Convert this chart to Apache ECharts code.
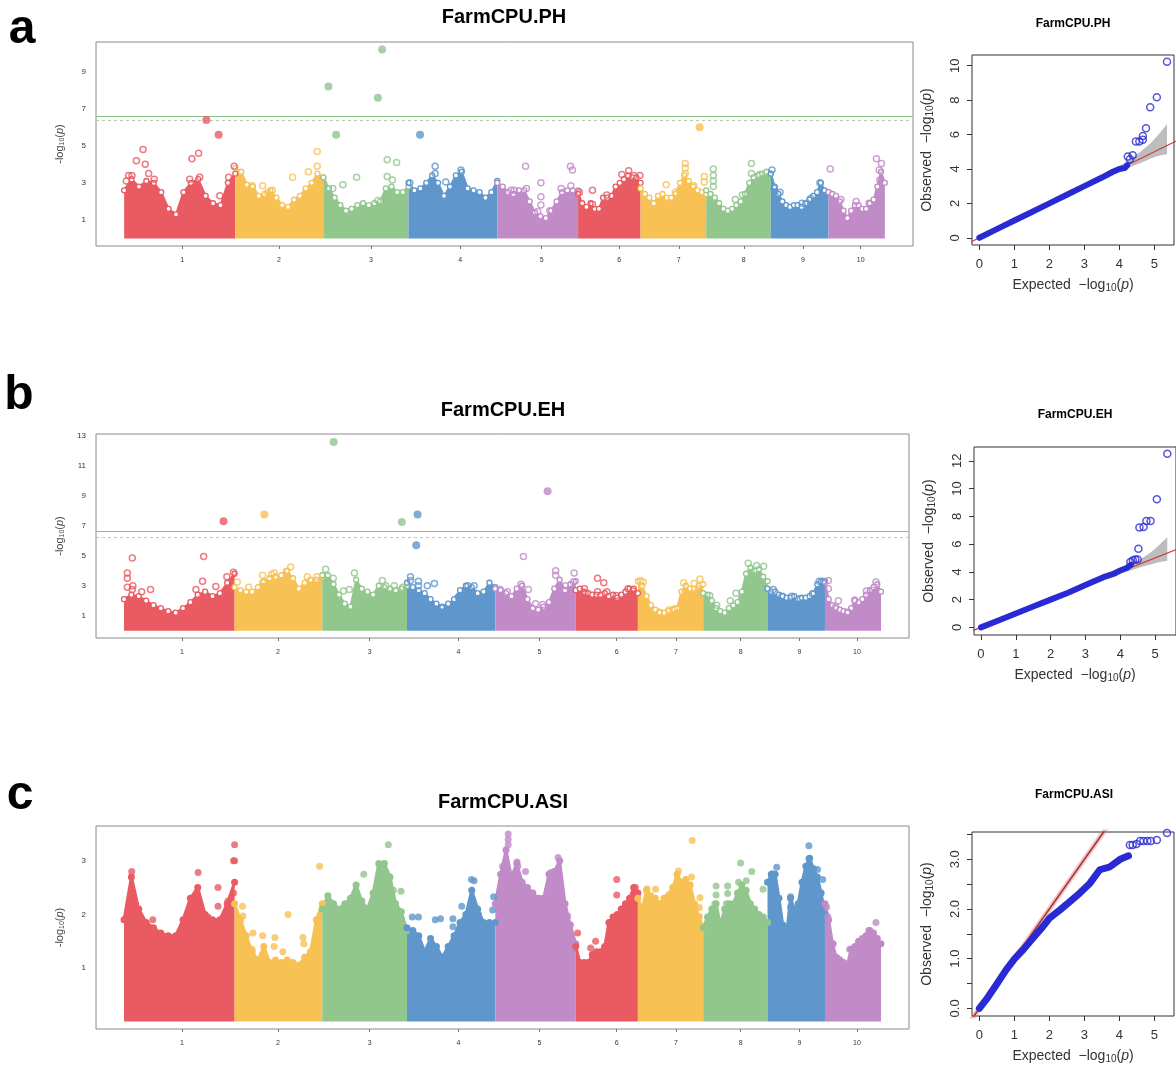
<!DOCTYPE html>
<html><head><meta charset="utf-8">
<script src="https://cdn.jsdelivr.net/npm/echarts@6/dist/echarts.min.js"></script>
<style>html,body{margin:0;padding:0;background:#fff}#c{width:1176px;height:1065px}</style>
</head><body><div id="c"></div>
<script>
// ---------- chromosome layout ----------
const CHR_NAMES = ['1','2','3','4','5','6','7','8','9','10'];
const CHR_LEN = [308,244,236,246,224,173,182,179,160,156];          // Mb
const CHR_TICKS = [161,429,684,931,1157,1372,1537,1717,1881,2041]; // cumulative Mb of labels
const CHR_COLORS = ['#E95A62','#F8C154','#91C68D','#5F97CD','#C18BC8'];

// ---------- Manhattan: upper edge of dense SNP cloud (16 evenly spaced samples per chromosome) ----------
const PH_ENV = [
[2.6,3.2,2.8,3.1,3.0,2.5,1.6,1.3,2.5,3.0,3.2,2.3,1.9,1.8,3.0,3.5],
[3.8,3.6,2.9,2.8,2.3,2.4,2.6,2.2,1.8,1.7,2.1,2.3,2.7,3.0,3.5,3.3],
[3.3,2.7,2.2,1.8,1.5,1.6,1.8,1.9,1.8,1.9,2.0,2.7,2.8,2.5,2.5,2.8],
[3.0,2.6,2.7,3.0,3.4,3.0,2.3,2.8,3.4,3.6,2.7,2.6,2.5,2.2,2.5,3.1],
[3.0,2.8,2.5,2.4,2.6,2.6,2.0,1.4,1.2,1.1,1.5,2.0,2.5,2.6,2.6,2.6],
[2.4,1.9,1.7,1.9,1.6,1.6,2.2,2.2,2.3,2.8,3.0,3.2,3.4,3.3,3.3,3.0],
[2.7,2.4,2.2,1.9,2.3,2.4,2.2,2.2,2.4,3.0,3.4,3.1,2.8,2.6,2.5,2.4],
[2.6,2.4,2.2,1.9,1.6,1.5,1.6,1.8,2.0,2.4,3.0,3.3,3.4,3.5,3.6,3.5],
[3.5,2.8,2.4,2.0,1.8,1.7,1.8,1.8,1.7,1.9,2.1,2.3,2.5,3.0,2.6,2.5],
[2.5,2.4,2.3,2.0,1.5,1.1,1.5,1.8,1.8,1.6,1.6,1.9,2.1,2.8,3.6,3.0]];
// individual SNPs: [chromosome, relative position in chromosome, -log10(p)]
const PH_HOLLOW = [
[1,0.17,4.8],[1,0.11,4.2],[1,0.19,4.0],[1,0.22,3.5],[1,0.04,3.4],[1,0.07,3.4],[1,0.02,3.1],[1,0.27,3.2],[1,0.61,4.3],[1,0.67,4.6],[1,0.59,3.2],[1,0.68,3.3],[1,0.86,2.3],[1,0.99,3.9],[1,0.94,3.3],
[2,0.93,4.7],[2,0.93,3.9],[2,0.83,3.6],[2,0.65,3.3],[2,0.31,2.85],[2,0.42,2.6],[2,0.19,2.85],[2,0.37,2.5],
[3,0.75,4.25],[3,0.86,4.1],[3,0.39,3.3],[3,0.75,3.35],[3,0.81,3.15],[3,0.23,2.9],[3,0.64,2.05],[3,0.11,2.7],
[4,0.30,3.9],[4,0.30,3.5],[4,0.59,3.7],[4,0.015,3.0],[4,0.42,3.05],[4,0.48,2.45],
[5,0.35,3.9],[5,0.905,3.9],[5,0.93,3.7],[5,0.54,3.0],[5,0.91,2.85],[5,0.36,2.7],[5,0.17,2.6],[5,0.21,2.6],[5,0.54,2.25],[5,0.54,1.8],[5,0.50,1.45],[5,0.79,2.7],[5,0.65,1.5],
[6,0.81,3.65],[6,0.70,3.45],[6,0.89,3.4],[6,0.99,3.4],[6,0.23,2.6],[6,0.23,1.85],[6,0.46,2.35],[6,0.02,2.5],
[7,0.68,4.05],[7,0.68,3.8],[7,0.68,3.5],[7,0.97,3.35],[7,0.97,3.05],[7,0.39,2.9],[7,0.53,2.5],[7,0.81,2.85],
[8,0.70,4.05],[8,0.11,3.75],[8,0.11,3.4],[8,0.11,3.1],[8,0.11,2.8],[8,0.70,3.5],[8,0.83,3.45],[8,0.45,2.1],[8,0.56,2.35],
[9,0.02,3.7],[9,0.06,2.7],[9,0.16,2.5],[9,0.85,3.0],[9,0.54,1.9],[9,0.69,2.15],
[10,0.85,4.3],[10,0.94,4.05],[10,0.90,3.7],[10,0.91,3.15],[10,0.03,3.75],[10,0.49,2.0],[10,0.22,2.1],[10,0.72,1.9]];
const PH_FILLED = [[1,0.74,6.4],[1,0.85,5.6],[3,0.06,8.2],[3,0.69,10.2],[3,0.64,7.6],[3,0.15,5.6],[4,0.13,5.6],[7,0.90,6.0]];
const PH_THRESH = [6.62, 6.40];

const EH_ENV = [
[2.1,2.4,2.3,2.0,1.7,1.5,1.3,1.2,1.5,1.9,2.4,2.6,2.3,2.5,3.2,3.8],
[2.9,2.7,2.6,2.6,2.9,3.3,3.5,3.6,3.7,4.0,3.5,2.8,3.2,3.4,3.4,3.6],
[3.7,3.7,3.1,2.4,1.8,1.6,3.4,2.8,2.6,2.4,3.0,2.9,2.8,2.7,2.8,3.0],
[3.2,2.9,2.7,2.5,2.1,1.8,1.6,1.8,2.1,2.7,3.0,2.9,2.5,2.6,3.2,2.9],
[2.8,2.7,2.5,2.3,2.8,3.0,2.1,1.5,1.4,1.6,1.9,2.8,3.4,2.7,3.1,3.3],
[2.7,2.8,2.6,2.5,2.4,2.4,2.4,2.5,2.3,2.4,2.2,2.4,2.6,2.8,2.8,2.5],
[3.3,3.0,2.3,1.7,1.4,1.2,1.2,1.3,1.4,1.5,2.6,3.0,2.8,2.8,3.0,3.1],
[2.5,2.4,2.0,1.5,1.3,1.2,1.5,1.7,1.9,2.6,3.8,4.2,4.0,4.1,3.6,3.3],
[2.8,2.6,2.6,2.4,2.3,2.2,2.2,2.3,2.1,2.2,2.2,2.3,2.5,3.1,3.3,3.3],
[3.2,2.1,1.7,1.5,1.4,1.3,1.2,1.5,2.0,1.9,2.1,2.4,2.7,2.9,3.1,2.6]];
const EH_HOLLOW = [
[1,0.075,4.85],[1,0.72,4.95],[1,0.03,3.85],[1,0.03,3.5],[1,0.03,2.9],[1,0.08,3.0],[1,0.075,2.75],[1,0.16,2.6],[1,0.24,2.75],[1,0.71,3.3],[1,0.65,2.75],[1,0.83,2.95],[1,0.99,3.9],[1,0.93,3.6],
[2,0.64,4.25],[2,0.59,3.95],[2,0.45,3.85],[2,0.42,3.75],[2,0.32,3.7],[2,0.32,3.2],[2,0.03,3.25],[2,0.16,2.9],[2,0.83,3.6],[2,0.94,3.6],
[3,0.04,4.1],[3,0.13,3.5],[3,0.38,3.85],[3,0.25,2.65],[3,0.32,2.75],[3,0.71,3.35],[3,0.85,3.0],[3,0.75,3.0],[3,0.95,2.9],
[4,0.04,3.6],[4,0.04,3.35],[4,0.13,3.3],[4,0.13,3.0],[4,0.23,3.0],[4,0.31,3.15],[4,0.39,1.5],[4,0.58,2.25],[4,0.69,3.0],[4,0.76,3.0],[4,0.86,2.15],
[5,0.35,4.95],[5,0.75,4.0],[5,0.75,3.7],[5,0.98,3.85],[5,0.97,3.25],[5,0.41,2.75],[5,0.32,3.1],[5,0.06,2.75],[5,0.15,2.6],[5,0.50,1.8],[5,0.59,1.75],[5,0.87,3.0],
[6,0.35,3.5],[6,0.45,3.2],[6,0.14,2.8],[6,0.15,2.5],[6,0.35,2.6],[6,0.50,2.6],[6,0.65,2.35],[6,0.84,2.8],[6,0.92,2.65],
[7,0.04,3.35],[7,0.08,3.25],[7,0.70,3.2],[7,0.86,3.15],[7,0.95,3.45],[7,0.92,2.8],[7,0.72,2.6],[7,0.33,1.25],[7,0.48,1.4],[7,0.56,1.45],
[8,0.70,4.5],[8,0.83,4.35],[8,0.94,4.3],[8,0.75,3.9],[8,0.78,3.25],[8,0.10,2.35],[8,0.51,2.5],[8,0.42,2.0],[8,0.21,1.7],
[9,0.10,2.75],[9,0.25,2.3],[9,0.42,2.3],[9,0.57,2.15],[9,0.78,2.45],[9,0.90,3.3],[9,0.97,3.3],
[10,0.06,3.35],[10,0.06,2.8],[10,0.24,2.0],[10,0.19,1.6],[10,0.41,1.25],[10,0.53,2.05],[10,0.74,2.65],[10,0.91,3.25],[10,0.85,2.7]];
const EH_FILLED = [[1,0.90,7.3],[2,0.34,7.75],[3,0.135,12.6],[3,0.94,7.25],[4,0.12,7.75],[4,0.105,5.7],[5,0.65,9.3]];
const EH_THRESH = [6.64, 6.24];

const ASI_ENV = [
[1.9,2.7,2.1,1.85,1.75,1.65,1.6,1.6,1.9,2.3,2.5,2.0,1.9,1.9,2.2,2.6],
[2.2,1.9,1.6,1.3,1.15,1.4,1.1,1.15,1.1,1.15,1.1,1.05,1.2,1.3,1.9,2.2],
[2.1,2.35,2.2,2.1,2.2,2.3,2.55,2.25,2.1,2.4,2.95,2.95,2.7,2.2,2.05,1.7],
[1.75,1.7,1.6,1.3,1.55,1.4,1.2,1.4,1.6,1.85,2.0,2.45,2.1,1.85,1.85,1.85],
[2.2,2.75,3.2,2.7,2.95,2.6,2.5,2.4,2.3,2.3,2.75,2.8,3.0,2.2,1.8,1.45],
[1.4,1.1,1.1,1.1,1.25,1.3,1.3,1.4,1.85,1.95,2.0,2.1,2.2,2.3,2.5,2.4],
[2.3,2.1,2.45,2.35,2.3,2.2,2.3,2.35,2.5,2.75,2.6,2.65,2.55,2.2,1.95,1.75],
[1.75,1.95,2.1,2.2,1.8,2.1,2.2,2.2,2.4,2.55,2.45,2.2,2.1,2.0,1.95,1.85],
[2.6,2.75,2.75,2.3,1.8,1.65,2.3,2.1,2.2,2.6,2.9,3.05,2.85,2.7,2.4,2.0],
[2.2,1.9,1.45,1.2,1.15,1.1,1.05,1.35,1.4,1.5,1.55,1.6,1.7,1.65,1.55,1.45]];
const ASI_FILLED = [
[1,0.07,2.8],[1,0.67,2.78],[1,1.0,3.3],[1,0.99,3.0],[1,1.0,3.0],[1,0.85,2.5],[1,0.85,2.15],[1,0.94,2.25],[1,0.99,2.4],[1,0.02,1.9],[1,0.26,1.9],[1,0.76,1.95],
[2,0.97,2.9],[2,0.61,2.0],[2,0.09,2.15],[2,0.095,1.97],[2,0.21,1.65],[2,0.32,1.6],[2,0.46,1.57],[2,0.45,1.4],[2,0.55,1.3],[2,0.78,1.57],[2,0.79,1.45],[2,0.20,1.35],
[3,0.78,3.3],[3,0.49,2.75],[3,0.84,2.45],[3,0.93,2.43],[3,0.41,2.3],[3,0.27,2.17],
[4,0.73,2.65],[4,0.76,2.63],[4,0.06,1.95],[4,0.13,1.95],[4,0.32,1.9],[4,0.38,1.92],[4,0.52,1.92],[4,0.52,1.77],[4,0.62,2.15],[4,0.81,2.0],[4,0.98,2.33],[4,0.97,2.08],
[5,0.16,3.5],[5,0.16,3.4],[5,0.16,3.3],[5,0.27,2.98],[5,0.28,2.9],[5,0.375,2.8],[5,0.09,2.9],[5,0.78,3.06],[5,0.69,2.78],[5,0.675,2.33],[5,0.55,2.3],[5,0.90,1.97],
[6,0.66,2.65],[6,0.66,2.36],[6,0.03,1.65],[6,0.32,1.5],[6,0.24,1.37],[6,0.46,1.37],[6,0.96,2.5],
[7,0.83,3.38],[7,0.62,2.81],[7,0.82,2.7],[7,0.95,2.31],[7,0.94,2.13],[7,0.94,1.96],[7,0.14,2.48],[7,0.27,2.47],[7,0.49,2.38],
[8,0.58,2.96],[8,0.755,2.8],[8,0.67,2.63],[8,0.20,2.53],[8,0.20,2.36],[8,0.38,2.53],[8,0.38,2.39],[8,0.93,2.47],[8,0.55,2.6],[8,0.18,2.2],[8,0.36,2.2],
[9,0.72,3.28],[9,0.72,3.04],[9,0.87,2.84],[9,0.96,2.65],[9,0.09,2.76],[9,0.16,2.88],[9,0.40,2.33],[9,0.40,2.14],
[10,0.91,1.85],[10,0.03,2.14],[10,0.05,1.96],[10,0.15,1.45],[10,0.22,1.18],[10,0.44,1.35],[10,0.61,1.48],[10,0.78,1.7],[10,0.39,1.04]];

// ---------- QQ plots ----------
const PH_QQ_EXP = [0,0.5,1,1.5,2,2.5,3,3.5,3.8,4.0,4.15,4.22];
const PH_QQ_OBS = [0,0.5,1,1.5,2,2.5,3,3.5,3.82,4.0,4.05,4.2];
const PH_QQ_TOP_EXP = [4.24,4.30,4.38,4.47,4.57,4.67,4.67,4.76,4.88,5.07,5.36];
const PH_QQ_TOP_OBS = [4.72,4.56,4.80,5.59,5.59,5.69,5.92,6.37,7.59,8.17,10.23];
const PH_BAND_X  = [4.0,4.3,4.6,4.9,5.1,5.36];
const PH_BAND_LO = [3.9,4.1,4.35,4.6,4.75,4.85];
const PH_BAND_HI = [4.15,4.55,5.0,5.5,5.95,6.6];

const EH_QQ_EXP = [0,0.5,1,1.5,2,2.5,3,3.5,3.8,4.0,4.2,4.3];
const EH_QQ_OBS = [0,0.5,1,1.5,2,2.5,3.05,3.6,3.85,4.1,4.3,4.5];
const EH_QQ_TOP_EXP = [4.29,4.36,4.43,4.50,4.52,4.55,4.67,4.75,4.87,5.05,5.35];
const EH_QQ_TOP_OBS = [4.72,4.84,4.89,4.89,5.66,7.19,7.24,7.67,7.67,9.23,12.52];
const EH_BAND_X  = [4.0,4.3,4.6,4.9,5.1,5.35];
const EH_BAND_LO = [3.9,4.1,4.35,4.55,4.7,4.8];
const EH_BAND_HI = [4.15,4.5,4.95,5.45,5.9,6.5];

const ASI_QQ_EXP = [0,0.2,0.49,0.77,1.01,1.25,1.54,1.82,2.01,2.30,2.59,2.87,3.16,3.44,3.73,4.02,4.26];
const ASI_QQ_OBS = [0,0.18,0.48,0.78,1.0,1.18,1.42,1.65,1.82,1.98,2.15,2.32,2.52,2.79,2.85,3.0,3.07];
const ASI_QQ_TOP_EXP = [4.30,4.38,4.49,4.59,4.69,4.80,4.90,5.07,5.36];
const ASI_QQ_TOP_OBS = [3.29,3.29,3.31,3.37,3.37,3.37,3.37,3.39,3.53];

// ---------- build ----------
const offsets = []; let acc = 0;
CHR_LEN.forEach(l => { offsets.push(acc); acc += l; });
const GENOME = acc, XMIN = -78, XMAX = GENOME + 78;
const colorOf = c => CHR_COLORS[(c - 1) % 5];
const pos = (c, f) => offsets[c - 1] + f * CHR_LEN[c - 1];
const FONT = '"Liberation Sans", Arial, sans-serif';
const QQ_BLUE = '#2a2ad4';

const series = [];
function manhattan(gi, env, hollow, filled, thr, ring) {
  env.forEach((row, c) => {
    const col = colorOf(c + 1);
    series.push({
      type: 'line', xAxisIndex: gi, yAxisIndex: gi, z: 2,
      data: row.map((v, i) => [pos(c + 1, i / (row.length - 1)), v]),
      symbol: 'circle', showSymbol: true, symbolSize: ring ? 5 : 7,
      itemStyle: { color: ring ? '#ffffff' : col, borderColor: col, borderWidth: ring ? 1.3 : 0 },
      lineStyle: { color: col, width: ring ? 2 : 3 },
      areaStyle: { color: col, opacity: 1, origin: 'auto' }
    });
  });
  const s = {
    type: 'scatter', xAxisIndex: gi, yAxisIndex: gi, z: 4, symbolSize: 6,
    itemStyle: { color: 'rgba(255,255,255,0)', borderWidth: 1.5 },
    data: hollow.map(([c, f, v]) => ({ value: [pos(c, f), v], itemStyle: { borderColor: colorOf(c) } }))
  };
  if (thr) s.markLine = {
    silent: true, symbol: ['none', 'none'], label: { show: false }, animation: false,
    data: [
      { yAxis: thr[0], lineStyle: { color: '#8dbf8a', type: 'solid', width: 1 } },
      { yAxis: thr[1], lineStyle: { color: '#b5c9b2', type: [3, 3], width: 1 } }
    ]
  };
  series.push(s);
  series.push({
    type: 'scatter', xAxisIndex: gi, yAxisIndex: gi, z: 5, symbolSize: ring ? 8 : 7,
    data: filled.map(([c, f, v]) => ({ value: [pos(c, f), v], itemStyle: { color: colorOf(c) } }))
  });
}
function qq(gi, ex, ob, tex, tob, bx, blo, bhi, width, halo) {
  if (bx) series.push({
    type: 'custom', xAxisIndex: gi, yAxisIndex: gi, z: 1, clip: true,
    data: bx.map((x, i) => [x, blo[i], bhi[i]]),
    renderItem: (params, api) => {
      if (params.dataIndex !== 0) return null;
      const pts = [];
      bx.forEach((x, i) => pts.push(api.coord([x, bhi[i]])));
      for (let i = bx.length - 1; i >= 0; i--) pts.push(api.coord([bx[i], blo[i]]));
      return { type: 'polygon', shape: { points: pts }, style: { fill: '#bdbdbd' } };
    }
  });
  if (halo) series.push({
    type: 'line', xAxisIndex: gi, yAxisIndex: gi, z: 2, showSymbol: false, data: [[-1, -1], [7, 7]],
    lineStyle: { color: 'rgba(220,120,120,0.45)', width: 5 }
  });
  series.push({
    type: 'line', xAxisIndex: gi, yAxisIndex: gi, z: 2, showSymbol: false, data: [[-1, -1], [7, 7]],
    lineStyle: { color: halo ? '#a83030' : '#d13a3a', width: halo ? 1.5 : 1.3 }
  });
  series.push({
    type: 'line', xAxisIndex: gi, yAxisIndex: gi, z: 3, showSymbol: false,
    data: ex.map((x, i) => [x, ob[i]]),
    lineStyle: { color: QQ_BLUE, width: width, cap: 'round', join: 'round' }
  });
  series.push({
    type: 'scatter', xAxisIndex: gi, yAxisIndex: gi, z: 4, symbolSize: 7,
    itemStyle: { color: 'rgba(255,255,255,0)', borderColor: QQ_BLUE, borderWidth: 1.5 },
    data: tex.map((x, i) => [x, tob[i]])
  });
}
manhattan(0, PH_ENV, PH_HOLLOW, PH_FILLED, PH_THRESH, true);
manhattan(1, EH_ENV, EH_HOLLOW, EH_FILLED, EH_THRESH, true);
manhattan(2, ASI_ENV, [], ASI_FILLED, null, false);
qq(3, PH_QQ_EXP, PH_QQ_OBS, PH_QQ_TOP_EXP, PH_QQ_TOP_OBS, PH_BAND_X, PH_BAND_LO, PH_BAND_HI, 6, false);
qq(4, EH_QQ_EXP, EH_QQ_OBS, EH_QQ_TOP_EXP, EH_QQ_TOP_OBS, EH_BAND_X, EH_BAND_LO, EH_BAND_HI, 6, false);
qq(5, ASI_QQ_EXP, ASI_QQ_OBS, ASI_QQ_TOP_EXP, ASI_QQ_TOP_OBS, null, null, null, 7, true);

const richM = { sub: { fontSize: 7, padding: [5, 0, 0, 0], fontFamily: FONT, color: '#444' }, it: { fontStyle: 'italic', fontSize: 11, fontFamily: FONT, color: '#444' } };
const richQ = { sub: { fontSize: 10, padding: [6, 0, 0, 0], fontFamily: FONT, color: '#333' }, it: { fontStyle: 'italic', fontSize: 14, fontFamily: FONT, color: '#333' } };

const mGrid = (top, width, height) => ({ left: 96, top, width, height, show: true, borderColor: '#8a8a8a', borderWidth: 1 });
const qGrid = (left, top, height) => ({ left, top, width: 202, height, show: true, borderColor: '#333', borderWidth: 1 });

const mX = gi => ({
  gridIndex: gi, type: 'value', min: XMIN, max: XMAX,
  axisLine: { show: false, onZero: false }, splitLine: { show: false },
  axisTick: { show: true, customValues: CHR_TICKS, length: 3, lineStyle: { color: '#777' } },
  axisLabel: { customValues: CHR_TICKS, fontSize: 7, color: '#333', margin: 11, fontFamily: FONT,
    formatter: v => { const i = CHR_TICKS.findIndex(t => Math.abs(t - v) < 1e-6); return i >= 0 ? CHR_NAMES[i] : ''; } }
});
const mY = (gi, min, max, labels) => ({
  gridIndex: gi, type: 'value', min, max,
  axisLine: { show: false, onZero: false }, axisTick: { show: false }, splitLine: { show: false },
  axisLabel: { customValues: labels, fontSize: 8, color: '#333', margin: 10, fontFamily: FONT },
  name: '-log{sub|10}({it|p})', nameLocation: 'middle', nameRotate: 90, nameGap: 30,
  nameTextStyle: { fontSize: 11, color: '#444', fontFamily: FONT, rich: richM }
});
const qX = (gi, min, max) => ({
  gridIndex: gi, type: 'value', min, max,
  axisLine: { show: false, onZero: false }, splitLine: { show: false },
  axisTick: { show: true, customValues: [0, 1, 2, 3, 4, 5], length: 5, lineStyle: { color: '#333' } },
  axisLabel: { customValues: [0, 1, 2, 3, 4, 5], fontSize: 13, color: '#333', margin: 13, fontFamily: FONT },
  name: 'Expected  \u2212log{sub|10}({it|p})', nameLocation: 'middle', nameGap: 32,
  nameTextStyle: { fontSize: 14, color: '#333', fontFamily: FONT, rich: richQ }
});
const qY = (gi, min, max, ticks, labels, fmt) => ({
  gridIndex: gi, type: 'value', min, max,
  axisLine: { show: false, onZero: false }, splitLine: { show: false },
  axisTick: { show: true, customValues: ticks, length: 5, lineStyle: { color: '#333' } },
  axisLabel: { customValues: labels, fontSize: 13, color: '#333', margin: 10, rotate: 90, fontFamily: FONT, formatter: fmt },
  name: 'Observed  \u2212log{sub|10}({it|p})', nameLocation: 'middle', nameRotate: 90, nameGap: 37,
  nameTextStyle: { fontSize: 14, color: '#333', fontFamily: FONT, rich: richQ }
});

const txt = (x, y, text, font) => ({
  type: 'text', x, y, silent: true,
  style: { text, font, fill: '#000', align: 'center', verticalAlign: 'middle', textAlign: 'center', textVerticalAlign: 'middle' }
});

const option = {
  animation: false,
  backgroundColor: '#fff',
  grid: [
    mGrid(42, 817, 204), mGrid(434, 813, 204), mGrid(826, 813, 203),
    qGrid(972, 55, 190), qGrid(974, 447, 188), qGrid(972, 832, 185)
  ],
  xAxis: [mX(0), mX(1), mX(2), qX(3, -0.21, 5.56), qX(4, -0.2, 5.6), qX(5, -0.21, 5.56)],
  yAxis: [
    mY(0, -0.41, 10.61, [1, 3, 5, 7, 9]),
    mY(1, -0.49, 13.13, [1, 3, 5, 7, 9, 11, 13]),
    mY(2, -0.14, 3.65, [1, 2, 3]),
    qY(3, -0.42, 10.62, [0, 2, 4, 6, 8, 10], [0, 2, 4, 6, 8, 10]),
    qY(4, -0.55, 13.0, [0, 2, 4, 6, 8, 10, 12], [0, 2, 4, 6, 8, 10, 12]),
    qY(5, -0.154, 3.55, [0, 0.5, 1, 1.5, 2, 2.5, 3, 3.5], [0, 1, 2, 3], v => Number(v).toFixed(1))
  ],
  graphic: [
    txt(22, 30, 'a', 'bold 48px ' + FONT),
    txt(19, 396, 'b', 'bold 48px ' + FONT),
    txt(20, 796, 'c', 'bold 48px ' + FONT),
    txt(504, 17, 'FarmCPU.PH', 'bold 20px ' + FONT),
    txt(503, 410, 'FarmCPU.EH', 'bold 20px ' + FONT),
    txt(503, 802, 'FarmCPU.ASI', 'bold 20px ' + FONT),
    txt(1073, 24, 'FarmCPU.PH', 'bold 12px ' + FONT),
    txt(1075, 415, 'FarmCPU.EH', 'bold 12px ' + FONT),
    txt(1074, 795, 'FarmCPU.ASI', 'bold 12px ' + FONT)
  ],
  series
};
const chart = echarts.init(document.getElementById('c'));
chart.setOption(option);
</script>
</body></html>
